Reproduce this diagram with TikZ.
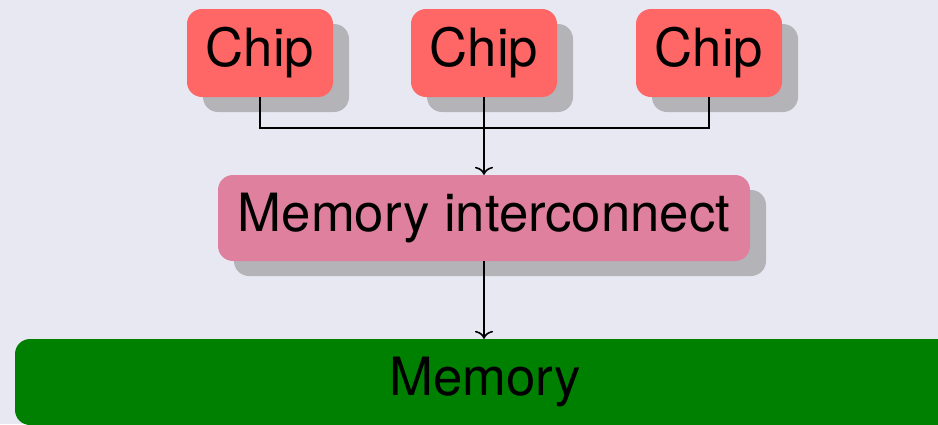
\documentclass[tikz,border=0pt]{standalone}
\usepackage{fontspec}
\setmainfont{TeX Gyre Heros}
\usetikzlibrary{shadows,arrows.meta}
\definecolor{bgcol}{RGB}{232,232,242}
\definecolor{chipcol}{RGB}{255,102,102}
\definecolor{iccol}{RGB}{223,128,159}
\definecolor{memcol}{RGB}{0,128,0}
\tikzset{
  block/.style={rounded corners=15pt, inner sep=0pt, text=black,
    font=\fontsize{52.7}{60}\selectfont},
  shadowed/.style={drop shadow={shadow xshift=16pt, shadow yshift=-15pt}},
  chipbox/.style={block, shadowed, fill=chipcol, minimum width=146pt, minimum height=88pt},
  icbox/.style={block, shadowed, fill=iccol, minimum width=532pt, minimum height=86pt},
  membox/.style={block, fill=memcol, minimum width=940pt, minimum height=86pt},
  wire/.style={line width=1.6pt, black},
  arrowwire/.style={wire, -{To[length=8pt,width=18pt,line width=1.6pt]}}
}
\begin{document}
\begin{tikzpicture}[x=1pt,y=-1pt]
  \useasboundingbox (0,0) rectangle (938,424);
  \clip (0,0) rectangle (938,424);
  \fill[bgcol] (0,0) rectangle (938,424);

  \node[chipbox] (c1) at (260,53) {Chip};
  \node[chipbox] (c2) at (484,53) {Chip};
  \node[chipbox] (c3) at (709,53) {Chip};
  \node[icbox] (ic) at (484,218) {Memory interconnect};
  \node[membox] (mem) at (485,382) {Memory};

  \coordinate (bus) at (484,128);
  \draw[wire] (c1.south) |- (bus) -| (c3.south);
  \draw[arrowwire] (c2.south) -- (ic.north);
  \draw[arrowwire] (ic.south) -- (ic.south |- mem.north);
\end{tikzpicture}
\end{document}
